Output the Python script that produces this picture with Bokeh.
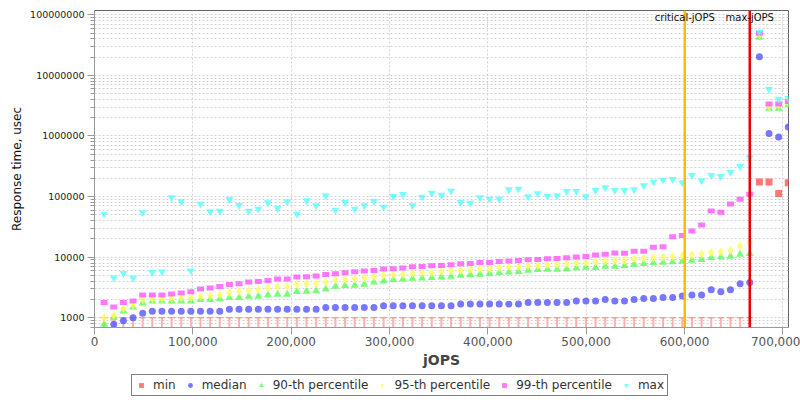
from bokeh.plotting import figure
from bokeh.layouts import column
from bokeh.models import (Span, Label, Legend, LegendItem,
                          FixedTicker, NumeralTickFormatter, Range1d)
from bokeh.embed import file_html
from bokeh.resources import INLINE

# ---------------- data ----------------
jops = [9800, 19600, 29400, 39200, 49000, 58800, 68600, 78400, 88200, 98000,
        107800, 117600, 127400, 137200, 147000, 156800, 166600, 176400, 186200, 196000,
        205800, 215600, 225400, 235200, 245000, 254800, 264600, 274400, 284200, 294000,
        303800, 313600, 323400, 333200, 343000, 352800, 362600, 372400, 382200, 392000,
        401800, 411600, 421400, 431200, 441000, 450800, 460600, 470400, 480200, 490000,
        499800, 509600, 519400, 529200, 539000, 548800, 558600, 568400, 578200, 588000,
        597800, 607600, 617400, 627200, 637000, 646800, 656600, 666400, 676200, 686000,
        695800, 705600]

min_rt = [500] * 68 + [174000, 174000, 112000, 170000]

median_rt = [600, 785, 891, 1000, 1193,
             1287, 1287, 1287, 1287, 1287, 1287, 1287, 1287,
             1389, 1389, 1389, 1389, 1389, 1389, 1389, 1389, 1389, 1389,
             1480, 1480, 1480, 1480, 1480, 1480,
             1577, 1577, 1577, 1577, 1577, 1577, 1577, 1577,
             1680, 1680, 1680, 1680, 1680, 1680, 1680,
             1790, 1790, 1790, 1790, 1790,
             1884, 1884, 1884,
             2007, 1884, 1884, 2007, 2084, 2084, 2165, 2165, 2279, 2366, 2366, 2899,
             2687, 2899, 3642, 3832,
             20300000, 1100000, 966000, 1410000]

p90_rt = [775, 1000, 1287, 1499, 1746, 1884, 1884, 1884, 1884, 1884,
          1982, 1982, 2058, 2138, 2138, 2250, 2250, 2366, 2427, 2427,
          2687, 2721, 2791, 2974, 3291, 3376, 3419, 3551, 3881, 4032,
          4243, 4351, 4463, 4519, 4578, 4694, 4815, 5002, 5131, 5196,
          5330, 5538, 5680, 5752, 6051, 6208, 6285, 6285, 6367, 6614,
          6780, 6698, 7047, 7047, 7228, 7603, 7798, 7998, 8204, 8311,
          8522, 8853, 9080, 9800, 10050, 10310, 11130, 11410,
          42500000, 2850000, 2850000, 3300000]

p95_rt = [1000, 1091, 1406, 1597, 2007, 2058, 2058, 2084, 2111, 2138,
          2250, 2308, 2397, 2587, 2721, 2827, 2899, 3089, 3291, 3291,
          3551, 3597, 3690, 3881, 4243, 4296, 4406, 4519, 4754, 5002,
          5131, 5196, 5400, 5538, 5610, 5823, 5980, 6051, 6208, 6449,
          6449, 6698, 6870, 6959, 7135, 7228, 7413, 7603, 7798, 7998,
          8204, 8414, 8631, 8853, 8853, 9312, 9555, 9800, 10050, 10310,
          10570, 10850, 11130, 12000, 12160, 12950, 15280, 17130,
          46300000, 3100000, 3200000, 3500000]

p99_rt = [1790, 1499, 1790, 1884, 2366, 2366, 2366, 2458, 2554, 2687,
          2974, 3089, 3291, 3551, 3642, 3881, 3981, 4136, 4351, 4351,
          4694, 4754, 4876, 5196, 5330, 5538, 5752, 5900, 6051, 6367,
          6449, 6614, 6959, 7047, 7228, 7320, 7508, 7798, 7898, 8204,
          8204, 8522, 8631, 8853, 9080, 9196, 9434, 9555, 9800, 10050,
          10310, 10850, 11130, 11700, 11560, 12470, 12470, 14520, 14900, 21800,
          22900, 27000, 33970, 57900, 55000, 75500, 90200, 109100,
          49400000, 3360000, 3360000, 3700000]

max_rt = [51600, 4580, 5400, 4520, 54300, 5610, 5750, 96100, 82600, 5980,
          75500, 56400, 57900, 90200, 71800, 57900, 62500, 79500, 64100, 82600,
          51600, 85800, 70900, 103800, 60100, 80500, 62500, 70900, 83600, 67400,
          101100, 109100, 70900, 98600, 114800, 106400, 123900, 80500, 78500, 96100,
          91400, 91400, 130300, 133700, 99900, 111900, 102400, 103800, 122400, 122400,
          100000, 127000, 140900, 127000, 127000, 130600, 152000, 174200, 188000, 193000,
          170000, 225000, 183700, 225000, 216600, 252000, 316800, 441000,
          52000000, 5870000, 4060000, 4170000]

critical_jops = 600300
max_jops = 666400

series_names = ["min", "median", "90-th percentile", "95-th percentile",
                "99-th percentile", "max"]

y_ticks = [1000, 10000, 100000, 1000000, 10000000, 100000000]
x_ticks = [0, 100000, 200000, 300000, 400000, 500000, 600000, 700000]

# ---------------- styles ----------------
Y_START, Y_END = 691, 1.178e8
FONT = "DejaVu Sans"
STYLES = [
    dict(marker="square", size=7, fill_color="#ff5555"),
    dict(marker="circle", size=7, fill_color="#5555ff"),
    dict(marker="triangle", size=8, fill_color="#55ff55"),
    dict(marker="diamond", size=9, fill_color="#ffff55"),
    dict(marker="square", size=6, fill_color="#ff55ff"),  # drawn as a flat rect in the plot
    dict(marker="inverted_triangle", size=8, fill_color="#55ffff"),
]

# ---------------- main figure ----------------
p = figure(frame_width=694, frame_height=317, output_backend="svg", toolbar_location=None,
           y_axis_type="log", x_range=Range1d(0, 705800), y_range=Range1d(Y_START, Y_END),
           min_border_left=94, min_border_right=12, min_border_top=10, min_border_bottom=45)
p.background_fill_color = "white"
p.border_fill_color = "white"
p.outline_line_color = "#666666"
p.outline_line_width = 1

minor = [m * d for d in [100, 1000, 10000, 100000, 1000000, 10000000] for m in range(2, 10)]
minor = [v for v in minor if Y_START <= v <= Y_END]
p.yaxis.ticker = FixedTicker(ticks=y_ticks, minor_ticks=minor)
p.yaxis.formatter = NumeralTickFormatter(format="0")
p.xaxis.ticker = FixedTicker(ticks=x_ticks)
p.xaxis.formatter = NumeralTickFormatter(format="0,0")

for ax in (p.xaxis[0], p.yaxis[0]):
    ax.axis_line_color = "#999999"
    ax.major_tick_line_color = "#999999"
    ax.minor_tick_line_color = "#999999"
    ax.major_tick_in = 0
    ax.minor_tick_in = 0
    ax.major_label_text_font = FONT
    ax.axis_label_text_font = FONT

p.yaxis.major_tick_out = 7
p.yaxis.minor_tick_out = 4
p.yaxis.major_label_standoff = 3
p.yaxis.major_label_text_font_size = "9.5px"
p.yaxis.major_label_text_color = "#222222"
p.yaxis.axis_label = "Response time, usec"
p.yaxis.axis_label_text_font_size = "12px"
p.yaxis.axis_label_text_font_style = "normal"
p.yaxis.axis_label_text_color = "#111111"
p.yaxis.axis_label_standoff = 3

p.xaxis.major_tick_out = 7
p.xaxis.minor_tick_out = 0
p.xaxis.major_label_standoff = 2
p.xaxis.major_label_text_font_size = "12px"
p.xaxis.major_label_text_color = "#555555"
p.xaxis.axis_label = "jOPS"
p.xaxis.axis_label_text_font_size = "14px"
p.xaxis.axis_label_text_font_style = "bold"
p.xaxis.axis_label_text_color = "#444444"
p.xaxis.axis_label_standoff = 3

p.ygrid.grid_line_color = "#d2d2d2"
p.ygrid.grid_line_dash = "2 2"
p.ygrid.minor_grid_line_color = "#d2d2d2"
p.ygrid.minor_grid_line_dash = "2 2"
p.xgrid.grid_line_color = "#d2d2d2"
p.xgrid.grid_line_dash = "2 2"

MIN_CAP = 1000
low_x = [x for x, v in zip(jops, min_rt) if v < Y_START]
low_v = [v for v in min_rt if v < Y_START]
hi_x = [x for x, v in zip(jops, min_rt) if v >= Y_START]
hi_v = [v for v in min_rt if v >= Y_START]

p.segment(x0=low_x, y0=low_v, x1=low_x, y1=[MIN_CAP] * len(low_x),
          line_color="#ffb0b0", line_width=2)
p.scatter(x=low_x, y=[MIN_CAP] * len(low_x), marker="dash", size=7,
          line_color="#ff8080", line_width=1)


def draw(fig, xs, ys, k, flat_rect=True):
    st = STYLES[k]
    if k == 4 and flat_rect:
        return fig.rect(x=xs, y=ys, width=7, height=5, width_units="screen",
                        height_units="screen", fill_color=st["fill_color"], fill_alpha=0.8,
                        line_color=None)
    return fig.scatter(x=xs, y=ys, marker=st["marker"], size=st["size"],
                       fill_color=st["fill_color"], fill_alpha=0.8, line_color=None)


draw(p, hi_x, hi_v, 0)
all_series = [min_rt, median_rt, p90_rt, p95_rt, p99_rt, max_rt]
for k in range(1, 6):
    draw(p, jops, all_series[k], k)

p.add_layout(Span(location=critical_jops, dimension="height",
                  line_color="#ffbb00", line_width=2.5))
p.add_layout(Span(location=max_jops, dimension="height",
                  line_color="#ee0000", line_width=2.5))

for xx, txt in ((critical_jops, "critical-jOPS"), (max_jops, "max-jOPS")):
    p.add_layout(Label(x=xx, y=8.9e7, text=txt, text_align="center",
                       text_baseline="middle", text_font=FONT,
                       text_font_size="10px", text_color="#111111"))

# ---------------- legend strip (proxy renderers lie outside its range) ----------------
lg = figure(width=800, height=28, output_backend="svg", toolbar_location=None,
            x_range=Range1d(0, 1), y_range=Range1d(0, 1),
            min_border_left=0, min_border_right=0, min_border_top=0, min_border_bottom=0)
lg.axis.visible = False
lg.grid.visible = False
lg.outline_line_color = None
lg.background_fill_color = "white"
lg.border_fill_color = "white"

items = []
for k, name in enumerate(series_names):
    r = draw(lg, [jops[-1]], [all_series[k][-1]], k, flat_rect=False)
    items.append(LegendItem(label=name, renderers=[r]))

legend = Legend(items=items, orientation="horizontal", location=(37, 4))
legend.label_text_font = FONT
legend.label_text_font_size = "12px"
legend.label_text_color = "#333333"
legend.glyph_width = 12
legend.glyph_height = 12
legend.label_height = 13
legend.label_standoff = 6
legend.spacing = 8
legend.padding = 3
legend.margin = 0
legend.border_line_color = "black"
legend.border_line_width = 1
legend.background_fill_color = "white"
legend.background_fill_alpha = 1
lg.add_layout(legend, "center")

layout = column(p, lg, spacing=0)
open("out.html", "w").write(file_html(layout, INLINE))
